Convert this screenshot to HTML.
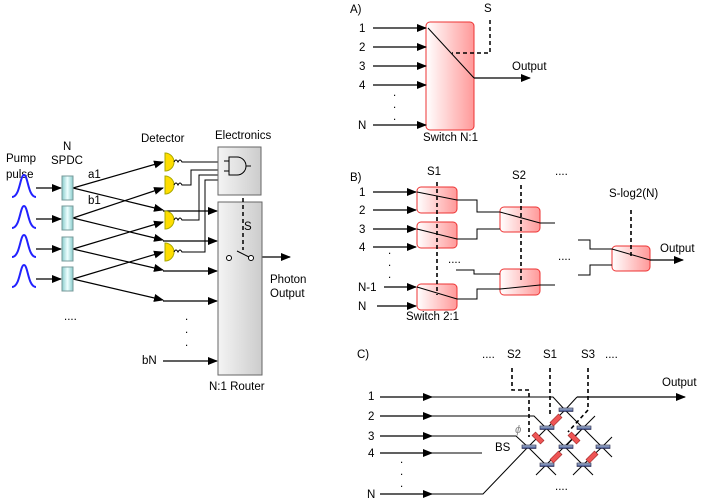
<!DOCTYPE html>
<html><head><meta charset="utf-8"><style>
body{margin:0;background:#fff}
svg{display:block}
text{font-family:"Liberation Sans",Arial,sans-serif;font-size:11.5px;fill:#000}
</style></head><body>
<svg width="708" height="502" viewBox="0 0 708 502" xmlns="http://www.w3.org/2000/svg">
<defs>
<marker id="ar" markerWidth="10" markerHeight="8" refX="9" refY="4" orient="auto" markerUnits="userSpaceOnUse"><path d="M0,0 L10,4 L0,8 z" fill="#000"/></marker>
<linearGradient id="rg" x1="0" x2="1"><stop offset="0" stop-color="#fff"/><stop offset="1" stop-color="#f99"/></linearGradient>
<linearGradient id="gg" x1="0" x2="1"><stop offset="0" stop-color="#f4f4f4"/><stop offset="1" stop-color="#ccc"/></linearGradient>
<linearGradient id="cg" x1="0" x2="1"><stop offset="0" stop-color="#8cc"/><stop offset="0.5" stop-color="#eff"/><stop offset="1" stop-color="#8cc"/></linearGradient>
<linearGradient id="bg" y1="0" y2="1" x1="0" x2="0"><stop offset="0" stop-color="#bcd"/><stop offset="1" stop-color="#348"/></linearGradient>
</defs>

<!-- LEFT PANEL -->
<text x="6" y="162">Pump</text><text x="6" y="178">pulse</text>
<text x="63" y="150">N</text><text x="51" y="164">SPDC</text>
<text x="141" y="142">Detector</text>
<text x="215" y="139">Electronics</text>
<g fill="none" stroke="#22f" stroke-width="2">
<path d="M12,197 C20,197 20,175 24,175 C28,175 28,197 36,197"/>
<path d="M12,228 C20,228 20,206 24,206 C28,206 28,228 36,228"/>
<path d="M12,257 C20,257 20,235 24,235 C28,235 28,257 36,257"/>
<path d="M12,287 C20,287 20,265 24,265 C28,265 28,287 36,287"/>
</g>
<g stroke="#000" stroke-width="1.2" fill="none" marker-end="url(#ar)">
<line x1="36" y1="188" x2="61" y2="188"/><line x1="36" y1="219" x2="61" y2="219"/>
<line x1="36" y1="249" x2="61" y2="249"/><line x1="36" y1="279" x2="61" y2="279"/>
<line x1="73" y1="188" x2="163" y2="162"/><line x1="73" y1="188" x2="163" y2="210"/>
<line x1="73" y1="218" x2="163" y2="188"/><line x1="73" y1="218" x2="163" y2="240"/>
<line x1="73" y1="249" x2="163" y2="222"/><line x1="73" y1="249" x2="163" y2="270"/>
<line x1="73" y1="279" x2="163" y2="252"/><line x1="73" y1="279" x2="163" y2="300"/>
<line x1="163" y1="211" x2="217" y2="211"/><line x1="163" y1="241" x2="217" y2="241"/>
<line x1="163" y1="271" x2="217" y2="271"/><line x1="163" y1="301" x2="217" y2="301"/>
<line x1="163" y1="361" x2="217" y2="361"/>
<line x1="262" y1="257" x2="290" y2="257"/>
</g>
<g fill="url(#cg)" stroke="#799" stroke-width="1">
<rect x="62" y="176" width="11" height="24"/><rect x="62" y="206" width="11" height="24"/>
<rect x="62" y="237" width="11" height="24"/><rect x="62" y="267" width="11" height="24"/>
</g>
<text x="88" y="178">a1</text><text x="88" y="204">b1</text>
<text x="64" y="320">....</text>
<text x="185" y="320">.</text><text x="185" y="333">.</text><text x="185" y="346">.</text>
<text x="142" y="364">bN</text>
<!-- detectors -->
<g fill="#fd0" stroke="#aa0">
<path d="M165,153 A9,9 0 0 1 165,171 z"/><path d="M165,176 A9,9 0 0 1 165,194 z"/>
<path d="M165,211 A9,9 0 0 1 165,229 z"/><path d="M165,243 A9,9 0 0 1 165,261 z"/>
</g>
<g fill="none" stroke="#000" stroke-width="1">
<path d="M174,162 q2,-4 4,0 q2,-4 4,0 h36"/>
<path d="M174,185 q2,-4 4,0 q2,-4 4,0 h9 v-15 h27"/>
<path d="M174,220 q2,-4 4,0 q2,-4 4,0 h17 v-45 h19"/>
<path d="M174,252 q2,-4 4,0 q2,-4 4,0 h23 v-72 h13"/>
</g>
<rect x="218" y="147" width="43" height="48" fill="url(#gg)" stroke="#666"/>
<path d="M229,157 h8 a9,9 0 0 1 0,18 h-8 z M224,161 h5 M224,171 h5 M246,166 h5" fill="none" stroke="#000"/>
<rect x="218" y="202" width="44" height="173" fill="url(#gg)" stroke="#666"/>
<line x1="243" y1="198" x2="243" y2="250" stroke="#000" stroke-width="1.5" stroke-dasharray="4,3"/>
<text x="244" y="230">S</text>
<circle cx="229" cy="258" r="2.5" fill="#fff" stroke="#000"/><circle cx="251" cy="258" r="2.5" fill="#fff" stroke="#000"/>
<line x1="237" y1="251" x2="249" y2="257" stroke="#000"/>
<text x="270" y="283">Photon</text><text x="270" y="297">Output</text>
<text x="209" y="390">N:1 Router</text>

<!-- PANEL A -->
<text x="350" y="13">A)</text>
<rect x="426" y="22" width="48" height="108" rx="4" fill="url(#rg)" stroke="#e33"/>
<g stroke="#000" stroke-width="1.2" marker-end="url(#ar)">
<line x1="373" y1="28" x2="426" y2="28"/><line x1="373" y1="47" x2="426" y2="47"/>
<line x1="373" y1="66" x2="426" y2="66"/><line x1="373" y1="85" x2="426" y2="85"/>
<line x1="373" y1="125" x2="426" y2="125"/><line x1="474" y1="78" x2="530" y2="78"/>
</g>
<line x1="428" y1="28" x2="474" y2="78" stroke="#000"/>
<path d="M490,20 V53 H452" fill="none" stroke="#000" stroke-width="1.5" stroke-dasharray="4,3"/>
<text x="359" y="32">1</text><text x="359" y="51">2</text><text x="359" y="70">3</text><text x="359" y="89">4</text><text x="358" y="129">N</text>
<text x="393" y="96">.</text><text x="393" y="108">.</text><text x="393" y="120">.</text>
<text x="484" y="12">S</text><text x="512" y="70">Output</text>
<text x="423" y="141">Switch N:1</text>

<!-- PANEL B -->
<text x="350" y="181">B)</text>
<g fill="url(#rg)" stroke="#e33">
<rect x="417" y="187" width="40" height="26" rx="4"/><rect x="417" y="222" width="40" height="26" rx="4"/>
<rect x="417" y="284" width="40" height="26" rx="4"/>
<rect x="500" y="207" width="40" height="25" rx="4"/><rect x="500" y="269" width="40" height="26" rx="4"/>
<rect x="612" y="246" width="38" height="25" rx="4"/>
</g>
<g stroke="#000" stroke-width="1.2" marker-end="url(#ar)">
<line x1="373" y1="192" x2="416" y2="192"/><line x1="373" y1="210" x2="416" y2="210"/>
<line x1="373" y1="229" x2="416" y2="229"/><line x1="373" y1="247" x2="416" y2="247"/>
<line x1="384" y1="287" x2="416" y2="287"/><line x1="377" y1="306" x2="416" y2="306"/>
<line x1="650" y1="260" x2="683" y2="260"/>
</g>
<g fill="none" stroke="#000" stroke-width="1">
<path d="M417,192 L457,200 H477 V212 H500 L540,223 H555"/>
<path d="M417,229 L457,239 H477 V229 H500"/>
<path d="M417,287 L457,299 H477 V289 H500 L540,285 H555"/>
<path d="M456,270 H474 V274 H500"/>
<path d="M578,240 H590 V249 H612 L650,260"/><path d="M578,275 H590 V265 H612"/>
</g>
<g stroke="#000" stroke-width="1.6" stroke-dasharray="4,3">
<line x1="437" y1="182" x2="437" y2="295"/><line x1="521" y1="185" x2="521" y2="280"/>
<line x1="631" y1="210" x2="631" y2="258"/>
</g>
<text x="359" y="196">1</text><text x="359" y="214">2</text><text x="359" y="233">3</text><text x="359" y="251">4</text>
<text x="358" y="291">N-1</text><text x="358" y="310">N</text>
<text x="388" y="254">.</text><text x="388" y="266">.</text><text x="388" y="278">.</text>
<text x="427" y="175">S1</text><text x="512" y="179">S2</text><text x="555" y="175">....</text>
<text x="448" y="263">....</text><text x="558" y="260">....</text>
<text x="609" y="197">S-log2(N)</text><text x="660" y="252">Output</text>
<text x="406" y="320">Switch 2:1</text>

<!-- PANEL C -->
<text x="357" y="358">C)</text>
<text x="482" y="358">....</text><text x="507" y="358">S2</text><text x="543" y="358">S1</text><text x="581" y="358">S3</text><text x="605" y="358">....</text>
<text x="662" y="386">Output</text>
<g stroke="#000" stroke-width="1.2" marker-end="url(#ar)">
<line x1="380" y1="397" x2="432" y2="397"/><line x1="380" y1="416" x2="432" y2="416"/>
<line x1="380" y1="436" x2="432" y2="436"/><line x1="380" y1="453" x2="432" y2="453"/>
<line x1="380" y1="494" x2="432" y2="494"/><line x1="577" y1="397" x2="685" y2="397"/>
</g>
<g fill="none" stroke="#000" stroke-width="1">
<path d="M432,397 H553 L565,410"/><path d="M432,416 H534 L546,428"/><path d="M432,436 H516 L528,447"/>
<path d="M432,453 H482"/><path d="M432,494 H483 L528,447"/>
<path d="M565,410 L577,397"/>
<path d="M565,410 L602,447 L612,457 M565,410 L528,447 M546,428 L583,465 L593,475 M583,428 L546,465 L536,475 M583,428 L595,416 M602,447 L583,465 L573,475 M602,447 L612,437 M528,447 L546,465 L556,475 M565,447 L583,428 M565,447 L546,428"/>
</g>
<text x="368" y="400">1</text><text x="368" y="420">2</text><text x="368" y="440">3</text><text x="368" y="457">4</text><text x="367" y="498">N</text>
<text x="400" y="463">.</text><text x="400" y="475">.</text><text x="400" y="487">.</text>
<text x="495" y="451">BS</text>
<text x="515" y="433" style="font-style:italic;fill:#888">ϕ</text>
<text x="555" y="490">....</text>
<g stroke="#000" stroke-width="1.6" stroke-dasharray="4,3" fill="none">
<path d="M512,368 V390 H529 V437"/><line x1="550" y1="368" x2="550" y2="415"/>
<path d="M588,368 V410 L568,432"/>
</g>
<g fill="url(#bg)" stroke="#224" stroke-width="0.6">
<rect x="559" y="408" width="14" height="3.5"/><rect x="540" y="426" width="14" height="3.5"/><rect x="577" y="426" width="14" height="3.5"/>
<rect x="522" y="445" width="14" height="3.5"/><rect x="559" y="445" width="14" height="3.5"/><rect x="596" y="445" width="14" height="3.5"/>
<rect x="540" y="463" width="14" height="3.5"/><rect x="577" y="463" width="14" height="3.5"/>
</g>
<g fill="#e55" stroke="#922" stroke-width="0.6">
<rect x="-6" y="-2.5" width="12" height="5" transform="translate(556,420) rotate(-45)"/>
<rect x="-6" y="-2.5" width="12" height="5" transform="translate(538,438) rotate(45)"/>
<rect x="-6" y="-2.5" width="12" height="5" transform="translate(574,438) rotate(45)"/>
<rect x="-6" y="-2.5" width="12" height="5" transform="translate(556,457) rotate(-45)"/>
<rect x="-6" y="-2.5" width="12" height="5" transform="translate(592,457) rotate(-45)"/>
</g>
</svg>
</body></html>
